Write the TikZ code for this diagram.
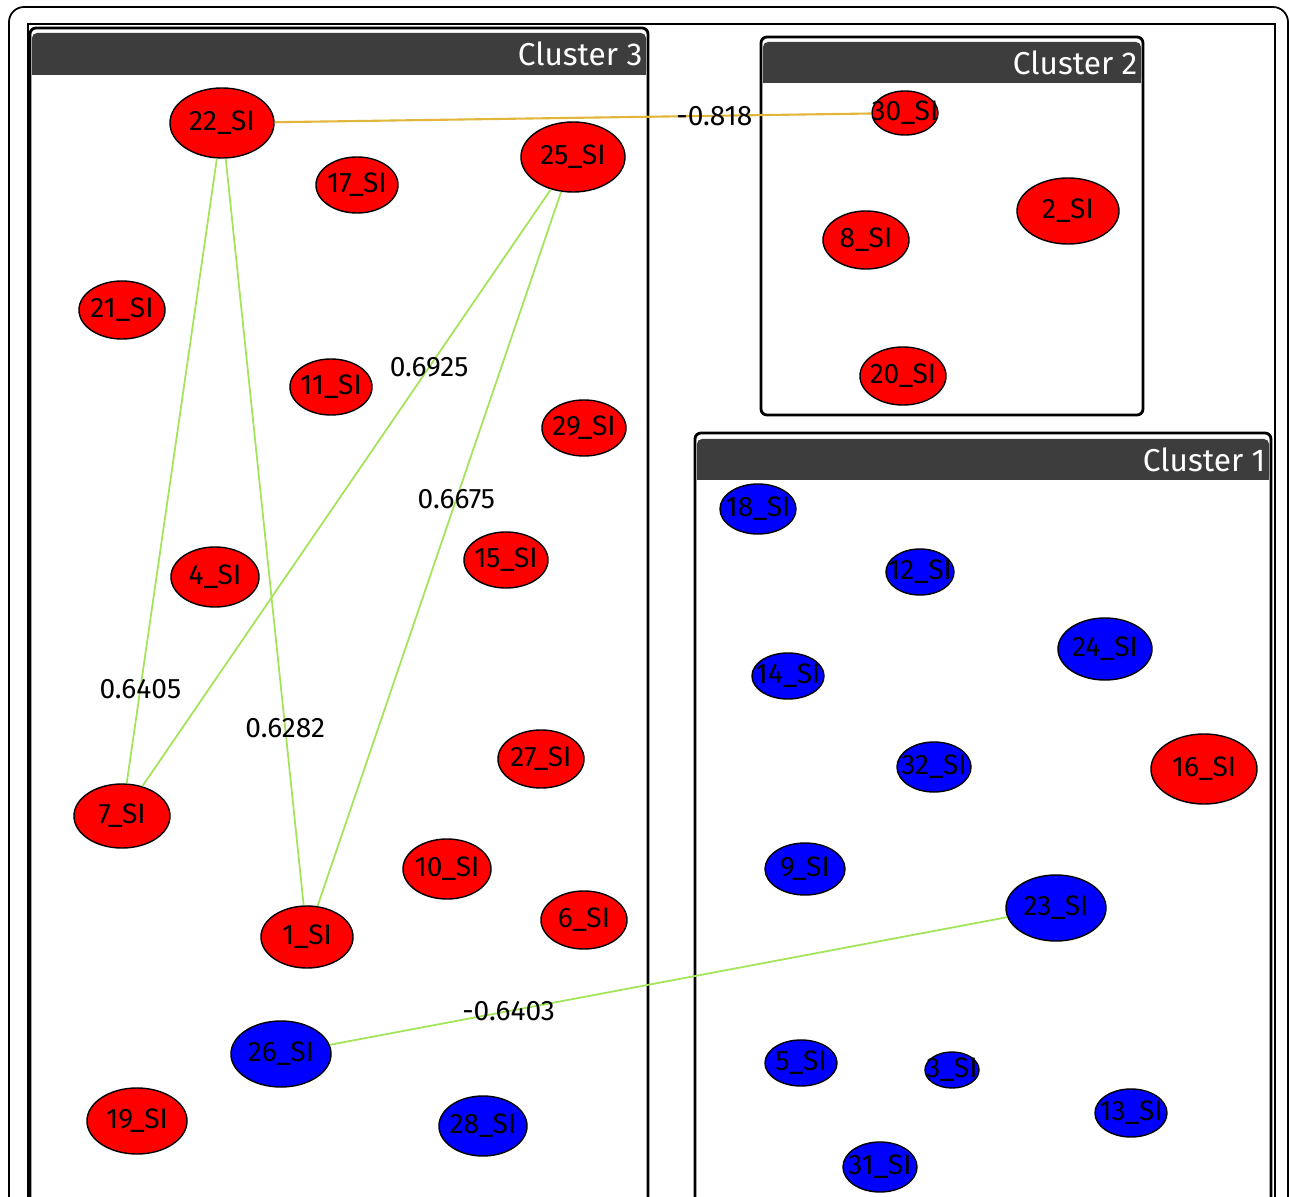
\documentclass[tikz,border=0pt]{standalone}
\usepackage{fontspec}
\setmainfont{Fira Sans}
\usetikzlibrary{shapes.geometric}
\definecolor{sired}{RGB}{255, 0, 0}
\definecolor{siblue}{RGB}{0, 0, 255}
\definecolor{headgray}{RGB}{61, 61, 61}
\definecolor{corrgreen}{RGB}{163, 228, 88}
\definecolor{corrgold}{RGB}{226, 182, 58}
\newcommand{\silabel}[1]{\makebox[0pt]{#1\_SI}}

\tikzset{
  si/.style={ellipse, draw=black, line width=0.4pt, inner sep=0pt, font=\fontsize{8}{8}\selectfont},
  redsi/.style={si, fill=sired},
  bluesi/.style={si, fill=siblue},
  sz/.style 2 args={minimum width=#1cm, minimum height=#2cm},
  clusterbox/.style={draw=black, line width=0.8pt, rounded corners=0.06cm},
  headbar/.style={fill=headgray, rounded corners=0.05cm},
  clustertitle/.style={anchor=east, text=white, font=\fontsize{9}{9}\selectfont, inner sep=0pt},
  corr/.style={corrgreen, line width=0.5pt},
  weight/.style={text=black, font=\fontsize{8}{8}\selectfont, inner sep=1pt},
}

\begin{document}
\begin{tikzpicture}[x=0.01cm, y=-0.01cm]
            \useasboundingbox (0,0) rectangle (1290,1197);
            \clip (0,0) rectangle (1290,1197);
            % frame
            \draw[line width=0.5pt, rounded corners=0.15cm] (9,7) rectangle (1288,1240);
            \draw[line width=0.4pt]                         (28,24) rectangle (1275,1240);

            % Cluster 3
            \filldraw[clusterbox, fill=white] (30,28) rectangle (648,1240);
            \fill[headbar]  (32,33) rectangle (646,75);
            \fill[headgray] (32,55) rectangle (646,75);
            \node[clustertitle] (title3) at (643,54) {Cluster 3};
            % Cluster 2
            \filldraw[clusterbox, fill=white] (761,37) rectangle (1143,415);
            \fill[headbar]  (763,42) rectangle (1141,83);
            \fill[headgray] (763,62) rectangle (1141,83);
            \node[clustertitle] (title2) at (1138,63) {Cluster 2};
            % Cluster 1
            \filldraw[clusterbox, fill=white] (695,433) rectangle (1271,1240);
            \fill[headbar]  (697,439) rectangle (1269,480);
            \fill[headgray] (697,459) rectangle (1269,480);
            \node[clustertitle] (title1) at (1266,460) {Cluster 1};

            % nodes of cluster 3
            \node[redsi,  sz={1.04}{0.70}] (n22) at ( 222, 123) {\silabel{22}};
            \node[redsi,  sz={0.82}{0.56}] (n17) at ( 357, 185) {\silabel{17}};
            \node[redsi,  sz={1.04}{0.70}] (n25) at ( 573, 157) {\silabel{25}};
            \node[redsi,  sz={0.86}{0.58}] (n21) at ( 122, 310) {\silabel{21}};
            \node[redsi,  sz={0.82}{0.56}] (n11) at ( 331, 387) {\silabel{11}};
            \node[redsi,  sz={0.84}{0.56}] (n29) at ( 584, 428) {\silabel{29}};
            \node[redsi,  sz={0.88}{0.60}] (n4)  at ( 215, 577) {\silabel{4}};
            \node[redsi,  sz={0.84}{0.56}] (n15) at ( 506, 560) {\silabel{15}};
            \node[redsi,  sz={0.96}{0.64}] (n7)  at ( 122, 816) {\silabel{7}};
            \node[redsi,  sz={0.86}{0.58}] (n27) at ( 541, 759) {\silabel{27}};
            \node[redsi,  sz={0.88}{0.60}] (n10) at ( 447, 869) {\silabel{10}};
            \node[redsi,  sz={0.92}{0.62}] (n1)  at ( 307, 937) {\silabel{1}};
            \node[redsi,  sz={0.86}{0.58}] (n6)  at ( 584, 920) {\silabel{6}};
            \node[bluesi, sz={1.00}{0.66}] (n26) at ( 281,1054) {\silabel{26}};
            \node[redsi,  sz={1.00}{0.66}] (n19) at ( 137,1121) {\silabel{19}};
            \node[bluesi, sz={0.88}{0.60}] (n28) at ( 483,1126) {\silabel{28}};
            % nodes of cluster 2
            \node[redsi,  sz={0.66}{0.44}] (n30) at ( 905, 113) {\silabel{30}};
            \node[redsi,  sz={0.86}{0.58}] (n8)  at ( 866, 240) {\silabel{8}};
            \node[redsi,  sz={1.02}{0.66}] (n2)  at (1068, 211) {\silabel{2}};
            \node[redsi,  sz={0.86}{0.58}] (n20) at ( 903, 376) {\silabel{20}};
            % nodes of cluster 1
            \node[bluesi, sz={0.76}{0.50}] (n18) at ( 758, 509) {\silabel{18}};
            \node[bluesi, sz={0.68}{0.46}] (n12) at ( 920, 572) {\silabel{12}};
            \node[bluesi, sz={0.94}{0.62}] (n24) at (1105, 649) {\silabel{24}};
            \node[bluesi, sz={0.72}{0.46}] (n14) at ( 788, 676) {\silabel{14}};
            \node[bluesi, sz={0.74}{0.50}] (n32) at ( 934, 767) {\silabel{32}};
            \node[redsi,  sz={1.06}{0.70}] (n16) at (1204, 769) {\silabel{16}};
            \node[bluesi, sz={0.80}{0.52}] (n9)  at ( 805, 869) {\silabel{9}};
            \node[bluesi, sz={1.00}{0.66}] (n23) at (1056, 908) {\silabel{23}};
            \node[bluesi, sz={0.72}{0.46}] (n5)  at ( 801,1063) {\silabel{5}};
            \node[bluesi, sz={0.54}{0.36}] (n3)  at ( 952,1070) {\silabel{3}};
            \node[bluesi, sz={0.72}{0.48}] (n13) at (1131,1113) {\silabel{13}};
            \node[bluesi, sz={0.74}{0.50}] (n31) at ( 880,1167) {\silabel{31}};

            % correlations
            \draw[corrgold, line width=0.6pt] (n22) -- node[weight, pos=0.737] (w22x30) {-0.818}  (n30);
            \draw[corr]                       (n22) -- node[weight, pos=0.849] (w22x7)  {0.6405}  (n7);
            \draw[corr]                       (n22) -- node[weight, pos=0.763] (w22x1)  {0.6282}  (n1);
            \draw[corr]                       (n25) -- node[weight, pos=0.298] (w25x7)  {0.6925}  (n7);
            \draw[corr]                       (n25) -- node[weight, pos=0.430] (w25x1)  {0.6675}  (n1);
            \draw[corr]                       (n26) -- node[weight, pos=0.264] (w26x23) {-0.6403} (n23);
\end{tikzpicture}
\end{document}
